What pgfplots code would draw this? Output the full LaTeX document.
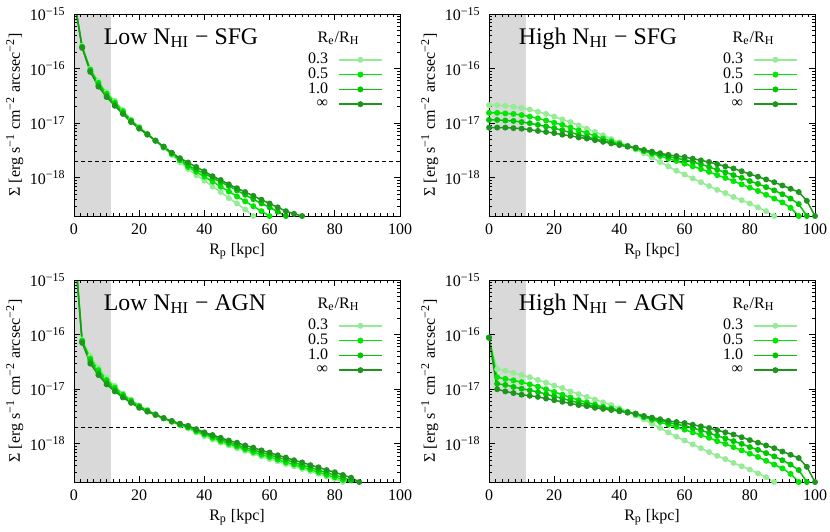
\documentclass[border=0pt]{standalone}
\usepackage{fontspec}
\setmainfont{Liberation Serif}
\usepackage{pgfplots}
\usepackage{pgfplotstable}
\pgfplotsset{compat=1.18}

\definecolor{gA}{RGB}{150,236,150}
\definecolor{gB}{RGB}{0,232,0}
\definecolor{gC}{RGB}{0,200,0}
\definecolor{gD}{RGB}{30,150,30}
\definecolor{bandgray}{RGB}{217,217,217}

% Low N_HI - SFG
\pgfplotstableread{
x a b c d
0 1.9e-15 1.9e-15 1.9e-15 1.9e-15
2.5 2.6e-16 2.5e-16 2.5e-16 2.4e-16
5 1.00e-16 9.55e-17 9.12e-17 8.71e-17
7.5 5.89e-17 5.50e-17 5.01e-17 4.68e-17
10 3.72e-17 3.47e-17 3.24e-17 3.02e-17
12.5 2.57e-17 2.40e-17 2.24e-17 2.09e-17
15 1.74e-17 1.66e-17 1.55e-17 1.48e-17
17.5 1.17e-17 1.12e-17 1.10e-17 1.05e-17
20 8.51e-18 8.32e-18 8.13e-18 7.94e-18
22.5 6.31e-18 6.31e-18 6.31e-18 6.17e-18
25 4.79e-18 4.79e-18 4.79e-18 4.79e-18
27.5 3.55e-18 3.63e-18 3.72e-18 3.72e-18
30 2.63e-18 2.75e-18 2.82e-18 2.88e-18
32.5 1.95e-18 2.09e-18 2.19e-18 2.29e-18
35 1.45e-18 1.58e-18 1.70e-18 1.91e-18
37.5 1.12e-18 1.29e-18 1.41e-18 1.58e-18
40 8.91e-19 1.05e-18 1.20e-18 1.32e-18
42.5 6.92e-19 8.51e-19 1.00e-18 1.07e-18
45 5.50e-19 6.92e-19 8.32e-19 9.12e-19
47.5 4.27e-19 5.62e-19 7.08e-19 7.59e-19
50 3.39e-19 4.57e-19 5.89e-19 6.46e-19
52.5 2.63e-19 3.72e-19 4.90e-19 5.50e-19
55 2.00e-19 3.02e-19 4.07e-19 4.68e-19
57.5 1.55e-19 2.45e-19 3.39e-19 3.98e-19
60 nan 2.00e-19 2.88e-19 3.39e-19
62.5 nan 1.62e-19 2.40e-19 2.88e-19
65 nan nan 2.00e-19 2.45e-19
67.5 nan nan 1.66e-19 2.19e-19
70 nan nan nan 2.00e-19
72.5 nan nan nan 1.74e-19
}\lowsfg

% High N_HI - SFG
\pgfplotstableread{
x a b c d
0 2.14e-17 1.55e-17 1.15e-17 8.32e-18
2.5 2.14e-17 1.55e-17 1.15e-17 8.32e-18
5 2.09e-17 1.51e-17 1.12e-17 8.32e-18
7.5 2.00e-17 1.48e-17 1.10e-17 8.13e-18
10 1.91e-17 1.41e-17 1.05e-17 7.94e-18
12.5 1.78e-17 1.32e-17 1.00e-17 7.59e-18
15 1.62e-17 1.23e-17 9.33e-18 7.24e-18
17.5 1.48e-17 1.12e-17 8.71e-18 6.92e-18
20 1.32e-17 1.02e-17 8.13e-18 6.61e-18
22.5 1.17e-17 9.33e-18 7.41e-18 6.17e-18
25 1.05e-17 8.32e-18 6.76e-18 5.89e-18
27.5 9.12e-18 7.41e-18 6.17e-18 5.50e-18
30 7.94e-18 6.61e-18 5.62e-18 5.25e-18
32.5 6.92e-18 5.89e-18 5.13e-18 4.90e-18
35 6.03e-18 5.25e-18 4.79e-18 4.57e-18
37.5 5.13e-18 4.68e-18 4.37e-18 4.27e-18
40 4.47e-18 4.27e-18 4.07e-18 3.98e-18
42.5 3.89e-18 3.80e-18 3.80e-18 3.72e-18
45 3.31e-18 3.44e-18 3.52e-18 3.58e-18
47.5 2.82e-18 3.09e-18 3.16e-18 3.24e-18
50 2.34e-18 2.75e-18 2.88e-18 3.02e-18
52.5 1.95e-18 2.51e-18 2.69e-18 2.82e-18
55 1.62e-18 2.24e-18 2.45e-18 2.63e-18
57.5 1.35e-18 2.04e-18 2.29e-18 2.51e-18
60 1.15e-18 1.82e-18 2.14e-18 2.40e-18
62.5 9.77e-19 1.62e-18 1.95e-18 2.24e-18
65 8.32e-19 1.45e-18 1.78e-18 2.09e-18
67.5 7.08e-19 1.29e-18 1.58e-18 1.95e-18
70 6.03e-19 1.12e-18 1.41e-18 1.78e-18
72.5 5.25e-19 1.00e-18 1.26e-18 1.62e-18
75 4.47e-19 8.71e-19 1.12e-18 1.48e-18
77.5 3.89e-19 7.59e-19 1.00e-18 1.32e-18
80 3.39e-19 6.61e-19 8.71e-19 1.17e-18
82.5 2.88e-19 5.75e-19 7.76e-19 1.05e-18
85 2.45e-19 4.90e-19 6.76e-19 9.33e-19
87.5 2.00e-19 4.17e-19 5.89e-19 8.32e-19
90 1.62e-19 3.55e-19 5.01e-19 7.24e-19
92.5 nan 2.82e-19 4.17e-19 6.31e-19
95 nan 2.00e-19 3.31e-19 5.50e-19
97.5 nan 1.26e-19 2.00e-19 3.80e-19
100 nan nan nan 2.00e-19
}\highsfg

% Low N_HI - AGN
\pgfplotstableread{
x a b c d
0 5.6e-15 5.6e-15 5.6e-15 5.6e-15
2.5 8.13e-17 7.76e-17 7.41e-17 7.08e-17
5 4.07e-17 3.63e-17 3.31e-17 2.95e-17
7.5 2.51e-17 2.24e-17 2.00e-17 1.82e-17
10 1.62e-17 1.48e-17 1.35e-17 1.23e-17
12.5 1.15e-17 1.07e-17 9.77e-18 9.12e-18
15 8.32e-18 7.94e-18 7.41e-18 7.08e-18
17.5 6.46e-18 6.17e-18 5.89e-18 5.62e-18
20 5.01e-18 4.90e-18 4.79e-18 4.57e-18
22.5 4.17e-18 4.07e-18 3.98e-18 3.89e-18
25 3.47e-18 3.47e-18 3.39e-18 3.39e-18
27.5 2.95e-18 2.95e-18 2.95e-18 2.95e-18
30 2.51e-18 2.57e-18 2.57e-18 2.63e-18
32.5 2.19e-18 2.24e-18 2.29e-18 2.34e-18
35 1.91e-18 2.00e-18 2.04e-18 2.14e-18
37.5 1.62e-18 1.70e-18 1.78e-18 1.86e-18
40 1.38e-18 1.48e-18 1.55e-18 1.62e-18
42.5 1.20e-18 1.29e-18 1.38e-18 1.45e-18
45 1.05e-18 1.12e-18 1.20e-18 1.29e-18
47.5 9.33e-19 1.00e-18 1.07e-18 1.15e-18
50 8.32e-19 8.91e-19 9.55e-19 1.05e-18
52.5 7.41e-19 7.94e-19 8.51e-19 9.33e-19
55 6.61e-19 7.08e-19 7.76e-19 8.51e-19
57.5 5.89e-19 6.31e-19 6.92e-19 7.59e-19
60 5.25e-19 5.75e-19 6.31e-19 6.92e-19
62.5 4.79e-19 5.13e-19 5.62e-19 6.17e-19
65 4.27e-19 4.57e-19 5.13e-19 5.62e-19
67.5 3.89e-19 4.17e-19 4.57e-19 5.01e-19
70 3.47e-19 3.72e-19 4.07e-19 4.57e-19
72.5 3.16e-19 3.39e-19 3.72e-19 4.07e-19
75 2.82e-19 3.02e-19 3.31e-19 3.72e-19
77.5 2.51e-19 2.69e-19 2.95e-19 3.31e-19
80 2.29e-19 2.45e-19 2.69e-19 3.02e-19
82.5 2.00e-19 2.19e-19 2.40e-19 2.69e-19
85 1.74e-19 1.95e-19 2.14e-19 2.40e-19
87.5 nan 1.70e-19 1.86e-19 2.00e-19
90 nan nan nan 1.74e-19
}\lowagn

% High N_HI - AGN
\pgfplotstableread{
x a b c d
0 8.8e-17 8.8e-17 8.8e-17 8.8e-17
2.5 2.34e-17 1.66e-17 1.26e-17 1.00e-17
5 2.19e-17 1.55e-17 1.20e-17 9.12e-18
7.5 2.00e-17 1.45e-17 1.10e-17 8.51e-18
10 1.82e-17 1.35e-17 1.02e-17 7.94e-18
12.5 1.66e-17 1.23e-17 9.55e-18 7.59e-18
15 1.48e-17 1.12e-17 8.91e-18 7.24e-18
17.5 1.32e-17 1.00e-17 8.13e-18 6.76e-18
20 1.17e-17 8.91e-18 7.41e-18 6.31e-18
22.5 1.05e-17 7.94e-18 6.76e-18 5.89e-18
25 9.12e-18 7.08e-18 6.17e-18 5.50e-18
27.5 8.13e-18 6.31e-18 5.62e-18 5.13e-18
30 7.24e-18 5.75e-18 5.25e-18 4.90e-18
32.5 6.46e-18 5.25e-18 4.90e-18 4.57e-18
35 5.75e-18 4.79e-18 4.57e-18 4.37e-18
37.5 5.13e-18 4.47e-18 4.27e-18 4.17e-18
40 4.47e-18 4.17e-18 3.98e-18 3.98e-18
42.5 3.89e-18 3.80e-18 3.80e-18 3.72e-18
45 3.31e-18 3.44e-18 3.52e-18 3.58e-18
47.5 2.82e-18 3.09e-18 3.16e-18 3.24e-18
50 2.34e-18 2.75e-18 2.88e-18 3.02e-18
52.5 1.95e-18 2.51e-18 2.69e-18 2.82e-18
55 1.62e-18 2.24e-18 2.45e-18 2.63e-18
57.5 1.35e-18 2.04e-18 2.29e-18 2.51e-18
60 1.15e-18 1.82e-18 2.14e-18 2.40e-18
62.5 9.77e-19 1.62e-18 1.95e-18 2.24e-18
65 8.32e-19 1.45e-18 1.78e-18 2.09e-18
67.5 7.08e-19 1.29e-18 1.58e-18 1.95e-18
70 6.03e-19 1.12e-18 1.41e-18 1.78e-18
72.5 5.25e-19 1.00e-18 1.26e-18 1.62e-18
75 4.47e-19 8.71e-19 1.12e-18 1.48e-18
77.5 3.89e-19 7.59e-19 1.00e-18 1.32e-18
80 3.39e-19 6.61e-19 8.71e-19 1.17e-18
82.5 2.88e-19 5.75e-19 7.76e-19 1.05e-18
85 2.45e-19 4.90e-19 6.76e-19 9.33e-19
87.5 2.00e-19 4.17e-19 5.89e-19 8.32e-19
90 1.62e-19 3.55e-19 5.01e-19 7.24e-19
92.5 nan 2.82e-19 4.17e-19 6.31e-19
95 nan 2.00e-19 3.31e-19 5.50e-19
97.5 nan 1.26e-19 2.00e-19 3.80e-19
100 nan nan nan 2.00e-19
}\highagn

\tikzset{
  crv/.style={line width=0.75pt, mark=*, mark size=1.1pt, mark options={solid}},
  graybox/.style={draw=none, fill=bandgray},
  thr/.style={black, line width=0.5pt, dash pattern=on 2pt off 1.5pt},
  ttl/.style={anchor=base west, font=\fontsize{11.9}{13}\selectfont},
  ltl/.style={anchor=base west, font=\fontsize{8}{9}\selectfont},
}

\begin{document}
\begin{tikzpicture}
\useasboundingbox (0,0) rectangle (415pt,265.5pt);

% ---------- top left ----------
\begin{axis}[ymode=log, xmin=0, xmax=100, ymin=2e-19, ymax=1e-15,
  scale only axis, width=163pt, height=101pt, at={(37pt,157.5pt)}, anchor=south west,
  axis on top,
  xtick={0,20,40,60,80,100}, minor x tick num=9, xticklabels={0,20,40,60,80,100},
  ytick={1e-18,1e-17,1e-16,1e-15},
  yticklabels={10\textsuperscript{−18},10\textsuperscript{−17},10\textsuperscript{−16},10\textsuperscript{−15}},
  minor ytick={2e-19,3e-19,4e-19,5e-19,6e-19,7e-19,8e-19,9e-19,2e-18,3e-18,4e-18,5e-18,6e-18,7e-18,8e-18,9e-18,2e-17,3e-17,4e-17,5e-17,6e-17,7e-17,8e-17,9e-17,2e-16,3e-16,4e-16,5e-16,6e-16,7e-16,8e-16,9e-16},
  tick label style={font=\fontsize{8}{9}\selectfont},
  xticklabel style={anchor=base, yshift=-9pt},
  yticklabel style={anchor=east, inner sep=0pt, xshift=-4pt},
  xlabel={R\textsubscript{p} [kpc]},
  ylabel={Σ [erg s\textsuperscript{−1} cm\textsuperscript{−2} arcsec\textsuperscript{−2}]},
  xlabel style={at={(axis description cs:0.5,-0.19)}, anchor=base, font=\fontsize{8}{9}\selectfont},
  ylabel style={at={(axis description cs:-0.166,0.5)}, anchor=base, font=\fontsize{8}{9}\selectfont},
  major tick length=3.2pt, minor tick length=1.7pt,
  every tick/.style={black, line width=0.4pt}, axis line style={line width=0.5pt},
  legend plot pos=right, legend cell align=right,
  legend style={draw=none, fill=none, at={(0.948,0.812)}, anchor=north east,
    inner sep=0pt, row sep=0pt, column sep=5pt, font=\fontsize{8}{9}\selectfont,
    nodes={inner sep=0pt, text height=5.6pt, text depth=1.8pt}},
  legend image code/.code={\draw[mark repeat=2,mark phase=2,#1] plot coordinates {(0pt,0pt)(10.75pt,0pt)(21.5pt,0pt)};}]
\addplot[graybox, forget plot] coordinates {(0,1e-20)(0,1e-14)(11.5,1e-14)(11.5,1e-20)} -- cycle;
\addplot[thr, forget plot] coordinates {(0,2e-18)(100,2e-18)};
\addplot[crv, color=gA] table[x=x,y=a]{\lowsfg}; \addlegendentry{0.3}
\addplot[crv, color=gB] table[x=x,y=b]{\lowsfg}; \addlegendentry{0.5}
\addplot[crv, color=gC] table[x=x,y=c]{\lowsfg}; \addlegendentry{1.0}
\addplot[crv, color=gD] table[x=x,y=d]{\lowsfg}; \addlegendentry{∞}
\node[ttl] at (rel axis cs:0.07,0.851) {Low N\textsubscript{HI} − SFG};
\node[ltl] at (rel axis cs:0.726,0.861) {R\textsubscript{e}/R\textsubscript{H}};
\end{axis}

% ---------- top right ----------
\begin{axis}[ymode=log, xmin=0, xmax=100, ymin=2e-19, ymax=1e-15,
  scale only axis, width=163pt, height=101pt, at={(244.5pt,157.5pt)}, anchor=south west,
  axis on top,
  xtick={0,20,40,60,80,100}, minor x tick num=9, xticklabels={0,20,40,60,80,100},
  ytick={1e-18,1e-17,1e-16,1e-15},
  yticklabels={10\textsuperscript{−18},10\textsuperscript{−17},10\textsuperscript{−16},10\textsuperscript{−15}},
  minor ytick={2e-19,3e-19,4e-19,5e-19,6e-19,7e-19,8e-19,9e-19,2e-18,3e-18,4e-18,5e-18,6e-18,7e-18,8e-18,9e-18,2e-17,3e-17,4e-17,5e-17,6e-17,7e-17,8e-17,9e-17,2e-16,3e-16,4e-16,5e-16,6e-16,7e-16,8e-16,9e-16},
  tick label style={font=\fontsize{8}{9}\selectfont},
  xticklabel style={anchor=base, yshift=-9pt},
  yticklabel style={anchor=east, inner sep=0pt, xshift=-4pt},
  xlabel={R\textsubscript{p} [kpc]},
  ylabel={Σ [erg s\textsuperscript{−1} cm\textsuperscript{−2} arcsec\textsuperscript{−2}]},
  xlabel style={at={(axis description cs:0.5,-0.19)}, anchor=base, font=\fontsize{8}{9}\selectfont},
  ylabel style={at={(axis description cs:-0.166,0.5)}, anchor=base, font=\fontsize{8}{9}\selectfont},
  major tick length=3.2pt, minor tick length=1.7pt,
  every tick/.style={black, line width=0.4pt}, axis line style={line width=0.5pt},
  legend plot pos=right, legend cell align=right,
  legend style={draw=none, fill=none, at={(0.948,0.812)}, anchor=north east,
    inner sep=0pt, row sep=0pt, column sep=5pt, font=\fontsize{8}{9}\selectfont,
    nodes={inner sep=0pt, text height=5.6pt, text depth=1.8pt}},
  legend image code/.code={\draw[mark repeat=2,mark phase=2,#1] plot coordinates {(0pt,0pt)(10.75pt,0pt)(21.5pt,0pt)};}]
\addplot[graybox, forget plot] coordinates {(0,1e-20)(0,1e-14)(11.5,1e-14)(11.5,1e-20)} -- cycle;
\addplot[thr, forget plot] coordinates {(0,2e-18)(100,2e-18)};
\addplot[crv, color=gA] table[x=x,y=a]{\highsfg}; \addlegendentry{0.3}
\addplot[crv, color=gB] table[x=x,y=b]{\highsfg}; \addlegendentry{0.5}
\addplot[crv, color=gC] table[x=x,y=c]{\highsfg}; \addlegendentry{1.0}
\addplot[crv, color=gD] table[x=x,y=d]{\highsfg}; \addlegendentry{∞}
\node[ttl] at (rel axis cs:0.07,0.851) {High N\textsubscript{HI} − SFG};
\node[ltl] at (rel axis cs:0.726,0.861) {R\textsubscript{e}/R\textsubscript{H}};
\end{axis}

% ---------- bottom left ----------
\begin{axis}[ymode=log, xmin=0, xmax=100, ymin=2e-19, ymax=1e-15,
  scale only axis, width=163pt, height=101pt, at={(37pt,24.5pt)}, anchor=south west,
  axis on top,
  xtick={0,20,40,60,80,100}, minor x tick num=9, xticklabels={0,20,40,60,80,100},
  ytick={1e-18,1e-17,1e-16,1e-15},
  yticklabels={10\textsuperscript{−18},10\textsuperscript{−17},10\textsuperscript{−16},10\textsuperscript{−15}},
  minor ytick={2e-19,3e-19,4e-19,5e-19,6e-19,7e-19,8e-19,9e-19,2e-18,3e-18,4e-18,5e-18,6e-18,7e-18,8e-18,9e-18,2e-17,3e-17,4e-17,5e-17,6e-17,7e-17,8e-17,9e-17,2e-16,3e-16,4e-16,5e-16,6e-16,7e-16,8e-16,9e-16},
  tick label style={font=\fontsize{8}{9}\selectfont},
  xticklabel style={anchor=base, yshift=-9pt},
  yticklabel style={anchor=east, inner sep=0pt, xshift=-4pt},
  xlabel={R\textsubscript{p} [kpc]},
  ylabel={Σ [erg s\textsuperscript{−1} cm\textsuperscript{−2} arcsec\textsuperscript{−2}]},
  xlabel style={at={(axis description cs:0.5,-0.19)}, anchor=base, font=\fontsize{8}{9}\selectfont},
  ylabel style={at={(axis description cs:-0.166,0.5)}, anchor=base, font=\fontsize{8}{9}\selectfont},
  major tick length=3.2pt, minor tick length=1.7pt,
  every tick/.style={black, line width=0.4pt}, axis line style={line width=0.5pt},
  legend plot pos=right, legend cell align=right,
  legend style={draw=none, fill=none, at={(0.948,0.812)}, anchor=north east,
    inner sep=0pt, row sep=0pt, column sep=5pt, font=\fontsize{8}{9}\selectfont,
    nodes={inner sep=0pt, text height=5.6pt, text depth=1.8pt}},
  legend image code/.code={\draw[mark repeat=2,mark phase=2,#1] plot coordinates {(0pt,0pt)(10.75pt,0pt)(21.5pt,0pt)};}]
\addplot[graybox, forget plot] coordinates {(0,1e-20)(0,1e-14)(11.5,1e-14)(11.5,1e-20)} -- cycle;
\addplot[thr, forget plot] coordinates {(0,2e-18)(100,2e-18)};
\addplot[crv, color=gA] table[x=x,y=a]{\lowagn}; \addlegendentry{0.3}
\addplot[crv, color=gB] table[x=x,y=b]{\lowagn}; \addlegendentry{0.5}
\addplot[crv, color=gC] table[x=x,y=c]{\lowagn}; \addlegendentry{1.0}
\addplot[crv, color=gD] table[x=x,y=d]{\lowagn}; \addlegendentry{∞}
\node[ttl] at (rel axis cs:0.07,0.851) {Low N\textsubscript{HI} − AGN};
\node[ltl] at (rel axis cs:0.726,0.861) {R\textsubscript{e}/R\textsubscript{H}};
\end{axis}

% ---------- bottom right ----------
\begin{axis}[ymode=log, xmin=0, xmax=100, ymin=2e-19, ymax=1e-15,
  scale only axis, width=163pt, height=101pt, at={(244.5pt,24.5pt)}, anchor=south west,
  axis on top,
  xtick={0,20,40,60,80,100}, minor x tick num=9, xticklabels={0,20,40,60,80,100},
  ytick={1e-18,1e-17,1e-16,1e-15},
  yticklabels={10\textsuperscript{−18},10\textsuperscript{−17},10\textsuperscript{−16},10\textsuperscript{−15}},
  minor ytick={2e-19,3e-19,4e-19,5e-19,6e-19,7e-19,8e-19,9e-19,2e-18,3e-18,4e-18,5e-18,6e-18,7e-18,8e-18,9e-18,2e-17,3e-17,4e-17,5e-17,6e-17,7e-17,8e-17,9e-17,2e-16,3e-16,4e-16,5e-16,6e-16,7e-16,8e-16,9e-16},
  tick label style={font=\fontsize{8}{9}\selectfont},
  xticklabel style={anchor=base, yshift=-9pt},
  yticklabel style={anchor=east, inner sep=0pt, xshift=-4pt},
  xlabel={R\textsubscript{p} [kpc]},
  ylabel={Σ [erg s\textsuperscript{−1} cm\textsuperscript{−2} arcsec\textsuperscript{−2}]},
  xlabel style={at={(axis description cs:0.5,-0.19)}, anchor=base, font=\fontsize{8}{9}\selectfont},
  ylabel style={at={(axis description cs:-0.166,0.5)}, anchor=base, font=\fontsize{8}{9}\selectfont},
  major tick length=3.2pt, minor tick length=1.7pt,
  every tick/.style={black, line width=0.4pt}, axis line style={line width=0.5pt},
  legend plot pos=right, legend cell align=right,
  legend style={draw=none, fill=none, at={(0.948,0.812)}, anchor=north east,
    inner sep=0pt, row sep=0pt, column sep=5pt, font=\fontsize{8}{9}\selectfont,
    nodes={inner sep=0pt, text height=5.6pt, text depth=1.8pt}},
  legend image code/.code={\draw[mark repeat=2,mark phase=2,#1] plot coordinates {(0pt,0pt)(10.75pt,0pt)(21.5pt,0pt)};}]
\addplot[graybox, forget plot] coordinates {(0,1e-20)(0,1e-14)(11.5,1e-14)(11.5,1e-20)} -- cycle;
\addplot[thr, forget plot] coordinates {(0,2e-18)(100,2e-18)};
\addplot[crv, color=gA] table[x=x,y=a]{\highagn}; \addlegendentry{0.3}
\addplot[crv, color=gB] table[x=x,y=b]{\highagn}; \addlegendentry{0.5}
\addplot[crv, color=gC] table[x=x,y=c]{\highagn}; \addlegendentry{1.0}
\addplot[crv, color=gD] table[x=x,y=d]{\highagn}; \addlegendentry{∞}
\node[ttl] at (rel axis cs:0.07,0.851) {High N\textsubscript{HI} − AGN};
\node[ltl] at (rel axis cs:0.726,0.861) {R\textsubscript{e}/R\textsubscript{H}};
\end{axis}
\end{tikzpicture}
\end{document}
